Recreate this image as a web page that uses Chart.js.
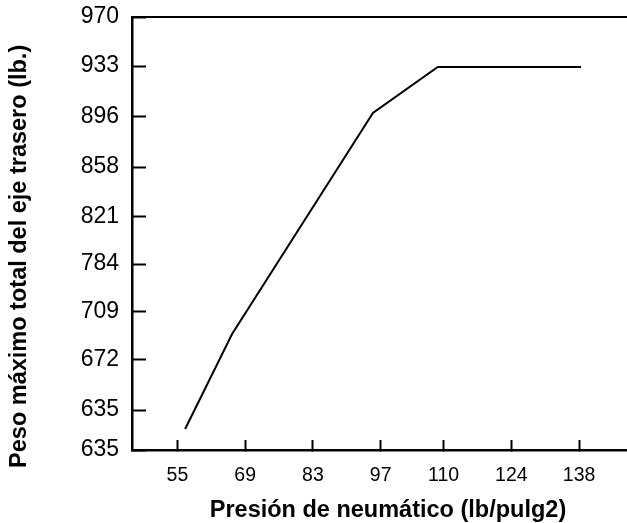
<!DOCTYPE html>
<html>
<head>
<meta charset="utf-8">
<script src="https://cdn.jsdelivr.net/npm/chart.js@4"></script>
<style>
  html, body { margin: 0; padding: 0; background: #ffffff; overflow: hidden; }
  #wrap { width: 660px; height: 523px; }
</style>
</head>
<body>
<div id="wrap"><canvas id="c"></canvas></div>
<script>
// Data
const pressure = [56.6, 66.3, 95.4, 108.8, 138.4];           // x values (lb/pulg2)
const weight   = [659.8, 731.3, 897.8, 932.4, 932.4];         // y values (axis units)

// Tick positions and their printed labels
const xTickValues = [55, 69, 83, 97, 110, 124, 138];
const xTickLabels = ['55', '69', '83', '97', '110', '124', '138'];
const yTickValues = [644, 674, 712, 748, 784, 820, 857, 895, 933, 970];
const yTickLabels = ['635', '635', '672', '709', '784', '821', '858', '896', '933', '970'];

const xTitle = 'Presión de neumático (lb/pulg2)';
const yTitle = 'Peso máximo total del eje trasero (lb.)';

const xMin = 45.62, xMax = 151.41;
const yMin = 644, yMax = 970;

const points = pressure.map((x, i) => ({ x: x, y: weight[i] }));

Chart.defaults.font.family = "'Liberation Sans', Arial, sans-serif";
Chart.defaults.color = '#000000';

new Chart(document.getElementById('c'), {
  type: 'line',
  data: {
    datasets: [{
      data: points,
      borderColor: '#000000',
      borderWidth: 2,
      pointRadius: 0,
      tension: 0,
      fill: false
    }]
  },
  options: {
    responsive: true,
    maintainAspectRatio: false,
    animation: false,
    layout: { padding: { left: 0, top: 0, bottom: 0, right: 16 } },
    plugins: { legend: { display: false }, tooltip: { enabled: false } },
    scales: {
      x: {
        type: 'linear',
        position: 'bottom',
        min: xMin,
        max: xMax,
        afterBuildTicks: (s) => { s.ticks = xTickValues.map(v => ({ value: v })); },
        afterFit: (s) => { s.height = 73; s.paddingLeft = 0; s.paddingRight = 0; },
        ticks: {
          callback: (v) => { const i = xTickValues.indexOf(v); return i >= 0 ? xTickLabels[i] : ''; },
          font: { size: 19.5 },
          padding: 24,
          maxRotation: 0,
          autoSkip: false
        },
        grid: { drawOnChartArea: false, drawTicks: true, tickLength: -10, tickWidth: 2, tickColor: '#000000' },
        border: { display: true, color: '#000000', width: 2.5 },
        title: {
          display: true,
          text: xTitle,
          font: { size: 23.5, weight: 'bold', lineHeight: 1 },
          padding: { top: 0, bottom: 1 }
        }
      },
      xTop: {
        type: 'linear',
        position: 'top',
        min: xMin,
        max: xMax,
        afterFit: (s) => { s.height = 17; },
        ticks: { display: false },
        grid: { drawOnChartArea: false, drawTicks: false },
        border: { display: true, color: '#000000', width: 2 }
      },
      y: {
        type: 'linear',
        position: 'left',
        min: yMin,
        max: yMax,
        afterBuildTicks: (s) => { s.ticks = yTickValues.map(v => ({ value: v })); },
        afterFit: (s) => { s.width = 132; s.paddingTop = 0; s.paddingBottom = 0; },
        ticks: {
          callback: (v) => { const i = yTickValues.indexOf(v); return i >= 0 ? yTickLabels[i] : ''; },
          font: { size: 23 },
          padding: 27,
          autoSkip: false
        },
        grid: { drawOnChartArea: false, drawTicks: true, tickLength: -14, tickWidth: 2, tickColor: '#000000' },
        border: { display: true, color: '#000000', width: 2.5 },
        title: {
          display: true,
          text: yTitle + '       ',
          font: { size: 23.5, weight: 'bold', lineHeight: 1 },
          padding: { top: 8, bottom: 0 }
        }
      }
    }
  }
});
</script>
</body>
</html>
